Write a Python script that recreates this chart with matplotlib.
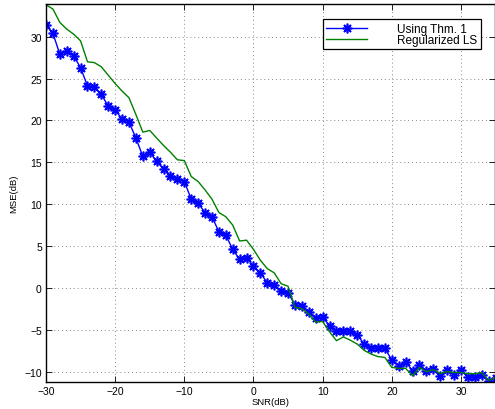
import matplotlib
matplotlib.use("Agg")
import matplotlib.pyplot as plt

plt.rcParams['font.family'] = ['Liberation Sans', 'DejaVu Sans']

# SNR axis, 1 dB steps
snr = list(range(-30, 36))

# MSE (dB)
mse_thm1 = [31.4, 30.4, 27.9, 28.3, 27.7, 26.3, 24.1, 24.0, 23.1, 21.7,
            21.2, 20.2, 19.8, 17.9, 15.7, 16.2, 15.1, 14.2, 13.4, 13.0,
            12.7, 10.6, 10.1, 9.0, 8.5, 6.7, 6.3, 4.6, 3.4, 3.6,
            2.6, 1.8, 0.6, 0.3, -0.4, -0.6, -2.0, -2.2, -2.9, -3.6,
            -3.5, -4.5, -5.1, -5.1, -5.2, -5.6, -6.7, -7.2, -7.2, -7.2,
            -8.6, -9.3, -8.8, -9.9, -9.2, -9.9, -9.7, -10.5, -9.8, -10.4,
            -9.8, -10.65, -10.65, -10.4, -11.1, -10.75]

mse_rls = [33.8, 33.3, 31.7, 30.9, 30.3, 29.5, 27.0, 26.9, 26.4, 25.4,
           24.4, 23.5, 22.7, 20.7, 18.6, 18.8, 17.9, 17.0, 16.2, 15.3,
           15.2, 13.3, 12.7, 11.7, 10.6, 9.0, 8.5, 7.5, 5.6, 5.7,
           4.6, 3.3, 2.3, 1.8, 0.5, 0.2, -2.3, -2.5, -3.1, -4.1,
           -4.0, -5.25, -6.3, -5.85, -6.25, -6.7, -7.45, -7.9, -8.2, -8.3,
           -9.5, -9.6, -9.6, -10.5, -9.5, -10.0, -9.75, -10.2, -10.0, -10.1,
           -10.1, -10.25, -10.25, -10.1, -11.05, -10.7]

x_ticks = [-30, -20, -10, 0, 10, 20, 30]
y_ticks = [-10, -5, 0, 5, 10, 15, 20, 25, 30]

fig = plt.figure(figsize=(4.95, 4.10), dpi=100)
ax = fig.add_axes([46 / 495, 27.3 / 410, 449.5 / 495, 377.7 / 410])

# matlab-like asterisk (plus + cross)
ax.plot(snr, mse_thm1, color=(0, 0, 1), linewidth=1.0, marker=(8, 2, 0),
        markersize=7, markeredgewidth=1.2, label='Using Thm. 1')
ax.plot(snr, mse_rls, color=(0, 0.5, 0), linewidth=1.0,
        label='Regularized LS')

ax.set_xlim(-30, 35)
ax.set_ylim(-11.2, 33.9)
ax.set_xticks(x_ticks)
ax.set_yticks(y_ticks)
ax.set_xticklabels(['\u221230', '\u221220', '\u221210', '0', '10', '20', '30'])
ax.set_yticklabels(['\u221210', '\u22125', '0', '5', '10', '15', '20', '25', '30'])
ax.tick_params(direction='in', top=True, right=True, length=4, width=0.6,
               labelsize=7.5, pad=3)
ax.grid(True, linestyle=(0, (1, 3)), color='#888888', linewidth=0.7)
for s in ax.spines.values():
    s.set_linewidth(1.0)

ax.set_xlabel('SNR(dB)', fontsize=6.8, labelpad=1)
ax.set_ylabel('MSE(dB)', fontsize=6.8, labelpad=4)

leg = ax.legend(loc='upper right', bbox_to_anchor=(0.98, 0.975), fontsize=8.5,
                fancybox=False, framealpha=1, edgecolor='black',
                handlelength=3.5, borderpad=0.3, labelspacing=-0.1,
                handletextpad=2.5)
leg.get_frame().set_linewidth(0.9)

fig.savefig('out.png', dpi=100)
